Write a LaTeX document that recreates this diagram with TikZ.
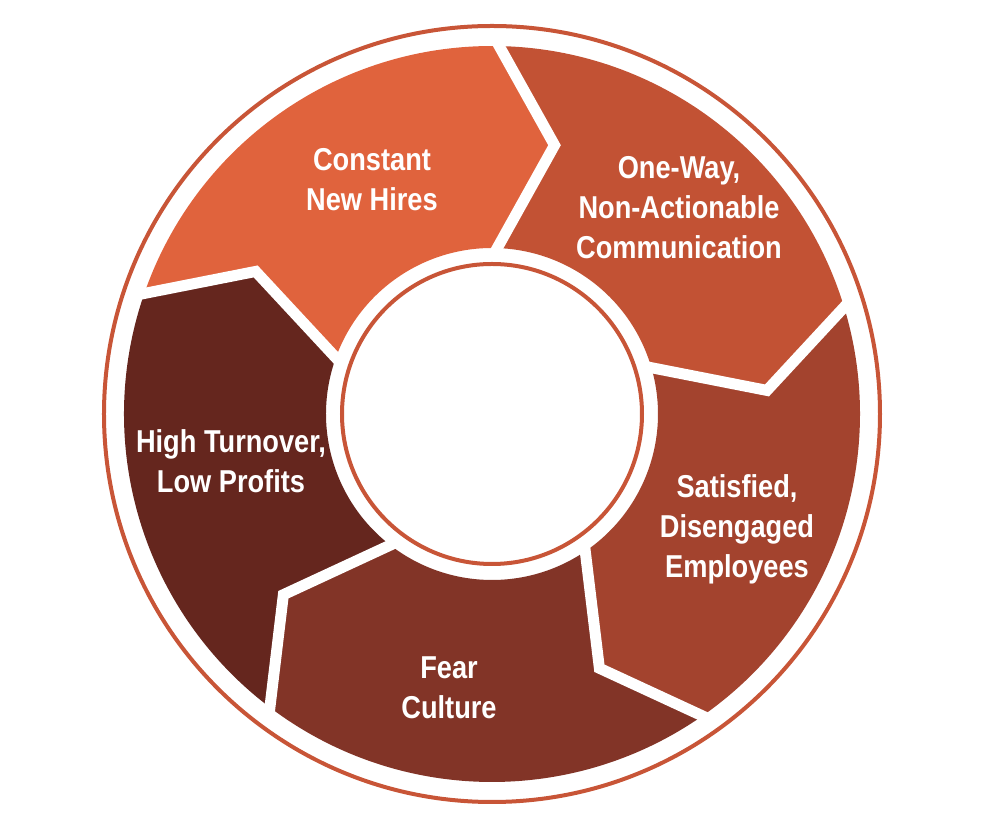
\documentclass[tikz,border=0pt]{standalone}
\usepackage{fontspec}
\setmainfont{Liberation Sans}[FakeStretch=0.86]
\usepackage{tikz}
\usetikzlibrary{positioning}
\definecolor{hireorange}{HTML}{E0633D}
\definecolor{commred}{HTML}{C25234}
\definecolor{satisred}{HTML}{A3432E}
\definecolor{fearbrown}{HTML}{823427}
\definecolor{turnbrown}{HTML}{65261E}
\definecolor{ringred}{HTML}{C85537}
\tikzstyle{Cgap}=[draw=white,line width=2.2mm,line join=miter]
\tikzstyle{Cring}=[circle,draw=ringred,line width=0.8mm,inner sep=0]
\tikzstyle{Clabel}=[text=white,align=center,font=\bfseries\fontsize{18}{22.8}\selectfont]
% one arrow shaped part of the ring, #1 = angle where it starts
\newcommand{\cyclepart}[2]{%
  \fill[#2] (#1:7.36) arc[start angle=#1,end angle=#1-72,radius=7.36cm]
    -- ({#1-84.6}:5.52) -- ({#1-72}:3.32)
    arc[start angle=#1-72,end angle=#1,radius=3.32cm]
    -- ({#1-12.6}:5.52) -- cycle;}
\newcommand{\cyclegap}[1]{%
  \draw[Cgap] (#1:7.5) -- ({#1-12.6}:5.52) -- (#1:3.18);}

\begin{document}
\begin{tikzpicture}
\path[use as bounding box] (-9.84,-8.30) rectangle (10.16,8.28);

\node[Cring,minimum size=15.52cm] (outer) at (0,0) {};
\node[Cring,minimum size=6cm] (hub) at (0,0) {};

\cyclepart{161.5}{hireorange}
\cyclepart{89.5}{commred}
\cyclepart{17.5}{satisred}
\cyclepart{-54.5}{fearbrown}
\cyclepart{-126.5}{turnbrown}

\cyclegap{89.5}
\cyclegap{17.5}
\cyclegap{-54.5}
\cyclegap{-126.5}
\cyclegap{161.5}

\node[Clabel] (hires) at (-2.40,4.68) {Constant\\New Hires};
\node[Clabel] (comm) at (3.74,4.12) {One-Way,\\Non-Actionable\\Communication};
\node[Clabel] (satis) at (4.90,-2.30) {Satisfied,\\Disengaged\\Employees};
\node[Clabel] (fear) at (-0.86,-5.48) {Fear\\Culture};
\node[Clabel] (turn) at (-5.22,-0.94) {High Turnover,\\Low Profits};

\end{tikzpicture}
\end{document}
